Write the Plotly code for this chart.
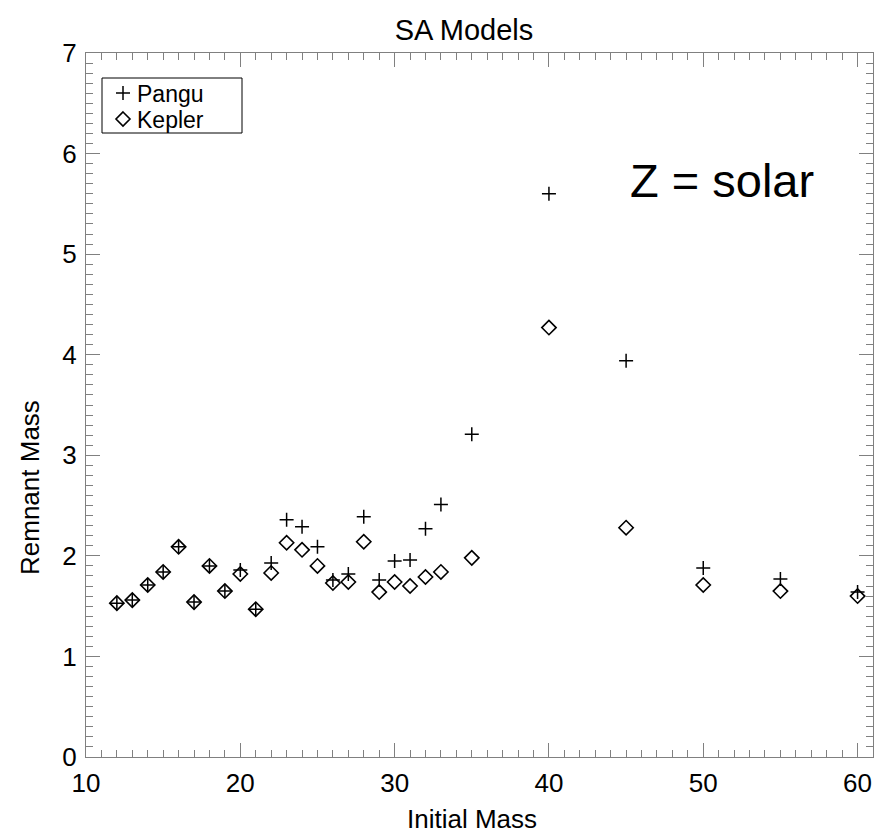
import plotly.graph_objects as go

mass = [12, 13, 14, 15, 16, 17, 18, 19, 20, 21, 22, 23, 24, 25, 26, 27, 28,
        29, 30, 31, 32, 33, 35, 40, 45, 50, 55, 60]
pangu = [1.53, 1.56, 1.71, 1.84, 2.09, 1.54, 1.90, 1.65, 1.86, 1.47, 1.93,
         2.36, 2.29, 2.09, 1.76, 1.82, 2.39, 1.76, 1.95, 1.96, 2.27, 2.51,
         3.21, 5.60, 3.94, 1.88, 1.77, 1.64]
kepler = [1.53, 1.56, 1.71, 1.84, 2.09, 1.54, 1.90, 1.65, 1.82, 1.47, 1.83,
          2.13, 2.06, 1.90, 1.73, 1.74, 2.14, 1.64, 1.74, 1.70, 1.79, 1.84,
          1.98, 4.27, 2.28, 1.71, 1.65, 1.60]
series_names = ["Pangu", "Kepler"]

FONT = "Liberation Sans, Arial, Helvetica, sans-serif"
AX = "#808080"

# plot area in pixels
L, R, T, B = 86, 873, 53, 757
W, H = R - L, B - T


def px(x):
    return (x - L) / W


def py(y):
    return (B - y) / H


fig = go.Figure()
fig.add_trace(go.Scatter(
    x=mass, y=pangu, mode="markers", name=series_names[0], showlegend=False,
    marker=dict(symbol="cross-thin-open", size=10, color="black",
                line=dict(color="black", width=1.5)),
))
fig.add_trace(go.Scatter(
    x=mass, y=kepler, mode="markers", name=series_names[1], showlegend=False,
    marker=dict(symbol="diamond-open", size=11, color="black",
                line=dict(color="black", width=1.6)),
))

axis_common = dict(
    showgrid=False, zeroline=False, showline=True, linecolor=AX, linewidth=1,
    mirror="ticks", ticks="inside", ticklen=14, tickcolor=AX, tickwidth=1,
    tickfont=dict(family=FONT, size=26, color="black"),
)

fig.update_xaxes(
    range=[10, 61], tickmode="linear", tick0=10, dtick=10,
    minor=dict(dtick=1, ticks="inside", ticklen=7, tickcolor=AX, showgrid=False),
    ticklabelstandoff=3,
    **axis_common,
)
fig.update_yaxes(
    range=[0, 7], tickmode="linear", tick0=0, dtick=1,
    minor=dict(dtick=0.1, ticks="inside", ticklen=7, tickcolor=AX, showgrid=False),
    ticklabelstandoff=3,
    **axis_common,
)

# manual legend (box + symbols + labels)
box = (102, 78, 242, 133)
rows = [93, 119]
sym_x = 123
shapes = [dict(type="rect", xref="paper", yref="paper",
               x0=px(box[0]), x1=px(box[2]), y0=py(box[3]), y1=py(box[1]),
               line=dict(color="black", width=1), fillcolor="white", layer="above")]
# plus symbol
c = 7
shapes.append(dict(type="path", xref="paper", yref="paper",
                   path=(f"M {px(sym_x - c)},{py(rows[0])} L {px(sym_x + c)},{py(rows[0])} "
                         f"M {px(sym_x)},{py(rows[0] - c)} L {px(sym_x)},{py(rows[0] + c)}"),
                   line=dict(color="black", width=1.5), layer="above"))
# diamond symbol
d = 7
shapes.append(dict(type="path", xref="paper", yref="paper",
                   path=(f"M {px(sym_x)},{py(rows[1] - d)} L {px(sym_x + d)},{py(rows[1])} "
                         f"L {px(sym_x)},{py(rows[1] + d)} L {px(sym_x - d)},{py(rows[1])} Z"),
                   line=dict(color="black", width=1.6), layer="above"))

annotations = [
    dict(text="Z = solar", xref="paper", yref="paper",
         x=px(722), y=py(180), xanchor="center", yanchor="middle",
         showarrow=False, font=dict(family=FONT, size=47, color="black")),
    dict(text="Initial Mass", xref="paper", yref="paper",
         x=px(472), y=py(819), xanchor="center", yanchor="middle",
         showarrow=False, font=dict(family=FONT, size=26, color="black")),
    dict(text="Remnant Mass", xref="paper", yref="paper", textangle=-90,
         x=px(30), y=py(488), xanchor="center", yanchor="middle",
         showarrow=False, font=dict(family=FONT, size=26, color="black")),
]
for name, ry in zip(series_names, rows):
    annotations.append(dict(text=name, xref="paper", yref="paper",
                            x=px(136), y=py(ry + 1), xanchor="left", yanchor="middle",
                            showarrow=False, borderpad=0,
                            font=dict(family=FONT, size=23, color="black")))

fig.update_layout(
    width=888, height=838,
    margin=dict(l=L, r=888 - R, t=T, b=838 - B),
    paper_bgcolor="white", plot_bgcolor="white",
    title=dict(text="SA Models", x=464 / 888, xanchor="center", y=1 - 30 / 838, yanchor="middle",
               font=dict(family=FONT, size=29, color="black")),
    showlegend=False,
    shapes=shapes,
    annotations=annotations,
)

fig.write_html("out.html")
